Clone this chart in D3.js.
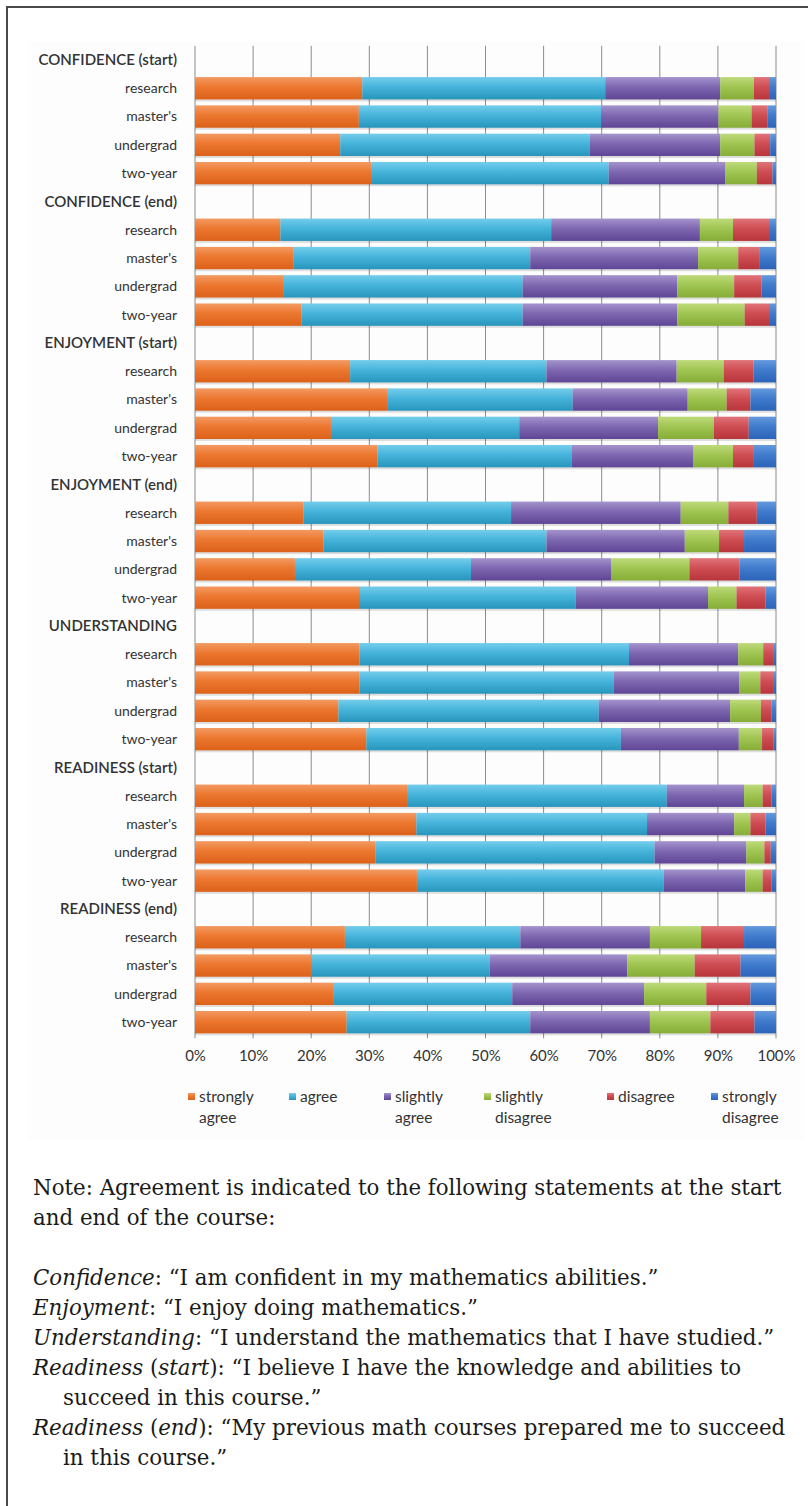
<!DOCTYPE html>
<html>
<head>
<meta charset="utf-8">
<script src="https://cdn.jsdelivr.net/npm/d3@7"></script>
<style>
  html, body { margin: 0; padding: 0; background: #ffffff; }
  svg { display: block; }
</style>
</head>
<body>
<svg id="chart" width="808" height="1506"></svg>
<script>
// ---- data -------------------------------------------------------------
const groups = [
  "CONFIDENCE (start)", "CONFIDENCE (end)",
  "ENJOYMENT (start)", "ENJOYMENT (end)",
  "UNDERSTANDING",
  "READINESS (start)", "READINESS (end)"
];
const institutions = ["research", "master's", "undergrad", "two-year"];
const responses = ["strongly agree", "agree", "slightly agree",
                   "slightly disagree", "disagree", "strongly disagree"];
const legendLines = [["strongly", "agree"], ["agree"], ["slightly", "agree"],
                     ["slightly", "disagree"], ["disagree"], ["strongly", "disagree"]];
const tickValues = [0, 10, 20, 30, 40, 50, 60, 70, 80, 90, 100];

// percent of respondents per response, one row per institution type
const confidenceStart = [
  [28.8, 41.8, 19.8, 5.8, 2.6, 1.2],
  [28.2, 41.7, 20.2, 5.7, 2.7, 1.5],
  [25.0, 42.9, 22.5, 5.9, 2.7, 1.0],
  [30.3, 40.9, 20.1, 5.4, 2.7, 0.6]
];
const confidenceEnd = [
  [14.7, 46.6, 25.6, 5.7, 6.2, 1.2],
  [17.0, 40.7, 28.9, 6.9, 3.6, 2.9],
  [15.3, 41.1, 26.6, 9.8, 4.7, 2.5],
  [18.3, 38.1, 26.6, 11.6, 4.2, 1.2]
];
const enjoymentStart = [
  [26.7, 33.8, 22.4, 8.1, 5.1, 3.9],
  [33.2, 31.8, 19.8, 6.7, 4.1, 4.4],
  [23.4, 32.4, 23.9, 9.6, 6.0, 4.7],
  [31.4, 33.4, 21.0, 6.8, 3.6, 3.8]
];
const enjoymentEnd = [
  [18.7, 35.7, 29.2, 8.2, 4.9, 3.3],
  [22.1, 38.4, 23.8, 5.9, 4.3, 5.5],
  [17.2, 30.3, 24.1, 13.5, 8.6, 6.3],
  [28.4, 37.1, 22.8, 4.9, 5.0, 1.8]
];
const understanding = [
  [28.3, 46.4, 18.8, 4.3, 1.7, 0.5],
  [28.3, 43.8, 21.6, 3.6, 2.2, 0.5],
  [24.7, 44.8, 22.6, 5.3, 1.8, 0.8],
  [29.5, 43.8, 20.3, 4.0, 2.0, 0.4]
];
const readinessStart = [
  [36.5, 44.7, 13.3, 3.2, 1.5, 0.8],
  [38.1, 39.7, 15.0, 2.8, 2.6, 1.8],
  [31.1, 48.0, 15.8, 3.1, 1.1, 0.9],
  [38.2, 42.5, 14.0, 3.0, 1.5, 0.8]
];
const readinessEnd = [
  [25.8, 30.2, 22.3, 8.8, 7.4, 5.5],
  [20.1, 30.6, 23.7, 11.6, 7.9, 6.1],
  [23.9, 30.7, 22.7, 10.7, 7.6, 4.4],
  [26.1, 31.6, 20.6, 10.4, 7.6, 3.7]
];

// ---- styling ----------------------------------------------------------
// [light, base, dark] for each response's bar gradient
const seriesColors = [
  ["#F39A62", "#EC772F", "#DC6119"],
  ["#74CDEC", "#46B3DA", "#2895BD"],
  ["#A494CD", "#7E67B0", "#5F4696"],
  ["#BEDA7A", "#A0C552", "#86AD37"],
  ["#E07479", "#CE4D53", "#B7353B"],
  ["#6499DD", "#3F7BCC", "#2B63B8"]
];

const sets = [confidenceStart, confidenceEnd, enjoymentStart, enjoymentEnd,
              understanding, readinessStart, readinessEnd];

// one row per header + one per institution
const rows = [];
groups.forEach((g, gi) => {
  rows.push({ id: "h" + gi, label: g, header: true, values: null });
  institutions.forEach((inst, ii) => {
    rows.push({ id: "r" + gi + "_" + ii, label: inst, header: false, values: sets[gi][ii] });
  });
});

const svg = d3.select("#chart");
const defs = svg.append("defs");

seriesColors.forEach((c, i) => {
  const lg = defs.append("linearGradient")
    .attr("id", "grad" + i)
    .attr("x1", 0).attr("y1", 0).attr("x2", 0).attr("y2", 1);
  lg.append("stop").attr("offset", "0%").attr("stop-color", c[0]);
  lg.append("stop").attr("offset", "45%").attr("stop-color", c[1]);
  lg.append("stop").attr("offset", "100%").attr("stop-color", c[2]);
});

// page frame
svg.append("path")
  .attr("d", "M7,1510 L7,7 L812,7")
  .attr("fill", "none")
  .attr("stroke", "#4a4a4a")
  .attr("stroke-width", 2);

// chart panel
svg.append("rect")
  .attr("x", 28).attr("y", 42)
  .attr("width", 776).attr("height", 1097)
  .attr("fill", "#fdfdfd");

const x = d3.scaleLinear().domain([0, 100]).range([195, 776]);
const y = d3.scaleBand()
  .domain(rows.map(r => r.id))
  .range([45.8, 45.8 + 35 * 28.3])
  .padding(0);
const barH = y.bandwidth() * 0.79;

// vertical gridlines
svg.append("g")
  .selectAll("line")
  .data(tickValues)
  .join("line")
  .attr("x1", d => x(d)).attr("x2", d => x(d))
  .attr("y1", y.range()[0]).attr("y2", y.range()[1] + 2)
  .attr("stroke", "#8c8c8c")
  .attr("stroke-width", 1);

// stacked bars
const stack = d3.stack().keys(d3.range(responses.length));
const dataRows = rows.filter(r => !r.header);
const stacked = stack(dataRows.map(r => r.values));

const barG = svg.append("g");

// soft shadow under each bar
barG.selectAll("rect.shadow")
  .data(dataRows)
  .join("rect")
  .attr("class", "shadow")
  .attr("x", x(0))
  .attr("y", d => y(d.id) + (y.bandwidth() - barH) / 2 + 2)
  .attr("width", d => x(d3.sum(d.values)) - x(0))
  .attr("height", barH)
  .attr("fill", "#000")
  .attr("opacity", 0.12);

stacked.forEach((layer, si) => {
  barG.append("g")
    .selectAll("rect")
    .data(layer)
    .join("rect")
    .attr("x", d => x(d[0]))
    .attr("y", (d, i) => y(dataRows[i].id) + (y.bandwidth() - barH) / 2)
    .attr("width", d => Math.max(0, x(d[1]) - x(d[0])))
    .attr("height", barH)
    .attr("fill", "url(#grad" + si + ")");
});

// category labels
const labelFont = "Lato, 'Open Sans', sans-serif";
svg.append("g")
  .selectAll("text")
  .data(rows)
  .join("text")
  .attr("x", 177)
  .attr("y", d => y(d.id) + y.bandwidth() / 2)
  .attr("dy", "0.35em")
  .attr("text-anchor", "end")
  .attr("font-family", labelFont)
  .attr("font-size", d => d.header ? 15 : 14)
  .attr("font-weight", d => d.header ? 600 : 400)
  .attr("fill", "#333333")
  .text(d => d.label);

// percentage axis
const xAxis = d3.axisBottom(x)
  .tickValues(tickValues)
  .tickFormat(d => d + "%")
  .tickSize(0)
  .tickPadding(0);
const axisG = svg.append("g")
  .attr("transform", "translate(0,1050)")
  .call(xAxis);
axisG.select(".domain").remove();
axisG.selectAll("text")
  .attr("font-family", labelFont)
  .attr("font-size", 15)
  .attr("fill", "#333333");

// legend
const legendX = [188, 289, 384, 484, 607, 711];
const legend = svg.append("g").attr("transform", "translate(0,1097)");
responses.forEach((r, i) => {
  const item = legend.append("g").attr("transform", "translate(" + legendX[i] + ",0)");
  item.append("rect")
    .attr("x", 0).attr("y", -4)
    .attr("width", 7).attr("height", 7)
    .attr("fill", "url(#grad" + i + ")");
  legendLines[i].forEach((t, li) => {
    item.append("text")
      .attr("x", 11)
      .attr("y", li * 21)
      .attr("dy", "0.35em")
      .attr("font-family", labelFont)
      .attr("font-size", 15.5)
      .attr("fill", "#333333")
      .text(t);
  });
});

// note below the chart
const noteLines = [
  { y: 1195, indent: 0, parts: [["Note: Agreement is indicated to the following statements at the start", false]] },
  { y: 1225, indent: 0, parts: [["and end of the course:", false]] },
  { y: 1285, indent: 0, parts: [["Confidence", true], [": \u201CI am confident in my mathematics abilities.\u201D", false]] },
  { y: 1315, indent: 0, parts: [["Enjoyment", true], [": \u201CI enjoy doing mathematics.\u201D", false]] },
  { y: 1345, indent: 0, parts: [["Understanding", true], [": \u201CI understand the mathematics that I have studied.\u201D", false]] },
  { y: 1375, indent: 0, parts: [["Readiness", true], [" (", false], ["start", true], ["): \u201CI believe I have the knowledge and abilities to", false]] },
  { y: 1405, indent: 1, parts: [["succeed in this course.\u201D", false]] },
  { y: 1435, indent: 0, parts: [["Readiness", true], [" (", false], ["end", true], ["): \u201CMy previous math courses prepared me to succeed", false]] },
  { y: 1465, indent: 1, parts: [["in this course.\u201D", false]] }
];
const noteG = svg.append("g")
  .attr("font-family", "'DejaVu Serif', 'Liberation Serif', serif")
  .attr("fill", "#1a1a1a");
const noteTexts = noteG.selectAll("text")
  .data(noteLines)
  .join("text")
  .attr("x", d => 33 + d.indent * 30)
  .attr("y", d => d.y);
noteTexts.each(function(d) {
  const t = d3.select(this);
  d.parts.forEach(p => {
    t.append("tspan")
      .attr("font-style", p[1] ? "italic" : "normal")
      .text(p[0]);
  });
});
// size the note type so its first line fills the text column
noteG.attr("font-size", 18);
const firstW = noteTexts.node().getComputedTextLength();
noteG.attr("font-size", 18 * 749 / firstW);
</script>
</body>
</html>
